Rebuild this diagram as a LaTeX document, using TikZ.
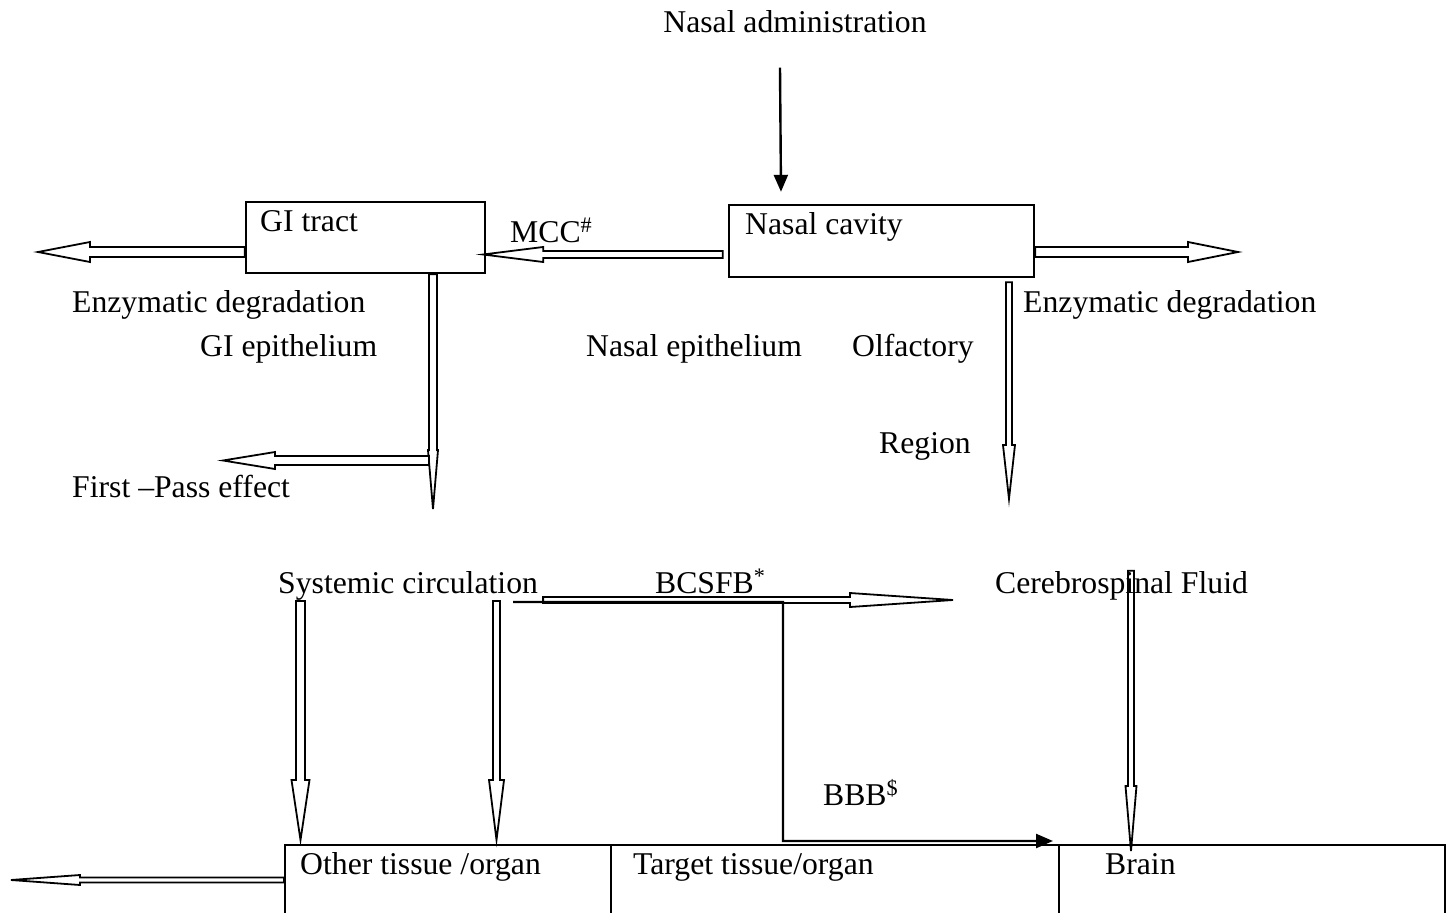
\documentclass[tikz,border=0pt]{standalone}
\usepackage{fontspec}
\setmainfont{Liberation Serif}
\usetikzlibrary{calc,arrows.meta}
% hollow block arrow: [style] start, tip, shaft half width, head half width, head length
\newcommand{\hollowarrow}[6][]{%
  \path (#3) coordinate (ha-tip) ($(#3)!#6pt!(#2)$) coordinate (ha-base);
  \draw[hollow,#1] ($(#2)!#4pt!90:(#3)$) -- ($(ha-base)!#4pt!-90:(#2)$)
    -- ($(ha-base)!#5pt!-90:(#2)$) -- (ha-tip) -- ($(ha-base)!#5pt!90:(#2)$)
    -- ($(ha-base)!#4pt!90:(#2)$) -- ($(#2)!#4pt!-90:(#3)$) -- cycle;
}

\begin{document}
\begin{tikzpicture}[x=1pt,y=-1pt,
  every node/.style={font=\fontsize{31.7}{38}\selectfont,inner sep=0pt},
  txt/.style={anchor=base west},
  box/.style={draw,line width=2.4pt},
  hollow/.style={draw,line width=1.8pt,fill=white,line join=miter},
  feed/.style={line width=2.4pt,-{Triangle[length=17pt,width=14pt]}}]
  \useasboundingbox (0,0) rectangle (1452,913);
  % ---- boxes ----
  \node[box,minimum width=239pt,minimum height=71pt] (gi) at (365.5,237.5) {};
  \node[box,minimum width=305pt,minimum height=72pt] (nc) at (881.5,241) {};
  \node[box,anchor=north west,minimum width=326pt,minimum height=90pt] (other) at (284,844) {};
  \node[box,anchor=north west,minimum width=448pt,minimum height=90pt] (target) at (610,844) {};
  \node[box,anchor=north west,minimum width=386pt,minimum height=90pt] (brain) at (1058,844) {};
  % ---- texts ----
  \node[anchor=base] (admin) at (795,32) {Nasal administration};
  \node[txt] (gitxt) at (260,231) {GI tract};
  \node[txt] (nctxt) at (745,234) {Nasal cavity};
  \node[txt] (mcc) at (510,242) {MCC\textsuperscript{\#}};
  \node[txt] (enzL) at (72,312) {Enzymatic degradation};
  \node[txt] (enzR) at (1023,312) {Enzymatic degradation};
  \node[txt] (giep) at (200,356) {GI epithelium};
  \node[txt] (ncep) at (586,356) {Nasal epithelium};
  \node[txt] (olf) at (852,356) {Olfactory};
  \node[txt] (reg) at (879,453) {Region};
  \node[txt] (fp) at (72,497) {First --Pass effect};
  \node[txt] (sys) at (278,593) {Systemic circulation};
  \node[txt] (bcsfb) at (655,593) {BCSFB\textsuperscript{*}};
  \node[txt] (csf) at (995,593) {Cerebrospinal Fluid};
  \node[txt] (bbb) at (823,805) {BBB\textsuperscript{\$}};
  \node[txt] (othertxt) at (300,874) {Other tissue /organ};
  \node[txt] (targettxt) at (633,874) {Target tissue/organ};
  \node[txt] (braintxt) at (1105,874) {Brain};
  % ---- free ends ----
  \coordinate (giEnz) at (38,252);
  \coordinate (ncEnz) at (1238,252);
  \coordinate (giDown) at (433,509);
  \coordinate (fpOut) at (429,460.5);
  \coordinate (fpTip) at (223,460.5);
  \coordinate (ncDown) at (1009,499);
  \coordinate (bcsfbTip) at (953,600);
  \coordinate (otherTip) at (11,880);
  % ---- arrows ----
  \draw[feed] ($(admin.south)+(-15,35)$) -- ($(nc.north)+(-100.5,-12)$);
  \hollowarrow{$(gi.west)+(0,14.5)$}{giEnz}{5}{10}{52}
  \hollowarrow{$(nc.west)+(-5,13.5)$}{$(gi.east)+(-3,17)$}{3.5}{7.5}{60}
  \hollowarrow{$(nc.east)+(0,11)$}{ncEnz}{5}{10}{50}
  \hollowarrow{$(gi.south)+(67.5,0)$}{giDown}{4}{5}{59}
  \hollowarrow{fpOut}{fpTip}{4.5}{8.5}{52}
  \hollowarrow{$(nc.south)+(127.5,4)$}{ncDown}{3}{6}{54}
  \hollowarrow{$(sys.south west)+(22.5,1)$}{$(other.north west)+(16.5,-4)$}{4.5}{9}{60}
  \hollowarrow{$(sys.south west)+(218.5,1)$}{$(other.north west)+(212.5,-4)$}{3.5}{7.5}{60}
  \hollowarrow{$(sys.south east)+(5,0)$}{bcsfbTip}{3}{7}{103}
  \hollowarrow[fill=none]{$(csf.north west)+(136,0)$}{$(brain.north west)+(73,7)$}{3}{5.5}{65}
  \hollowarrow{$(other.north west)+(0,36)$}{otherTip}{2.5}{5}{69}
  \draw[feed] ($(sys.south east)+(-25,2)$) -- (783,602) -- (783,841)
    -- ($(brain.north west)+(-5,-3)$);
\end{tikzpicture}
\end{document}
